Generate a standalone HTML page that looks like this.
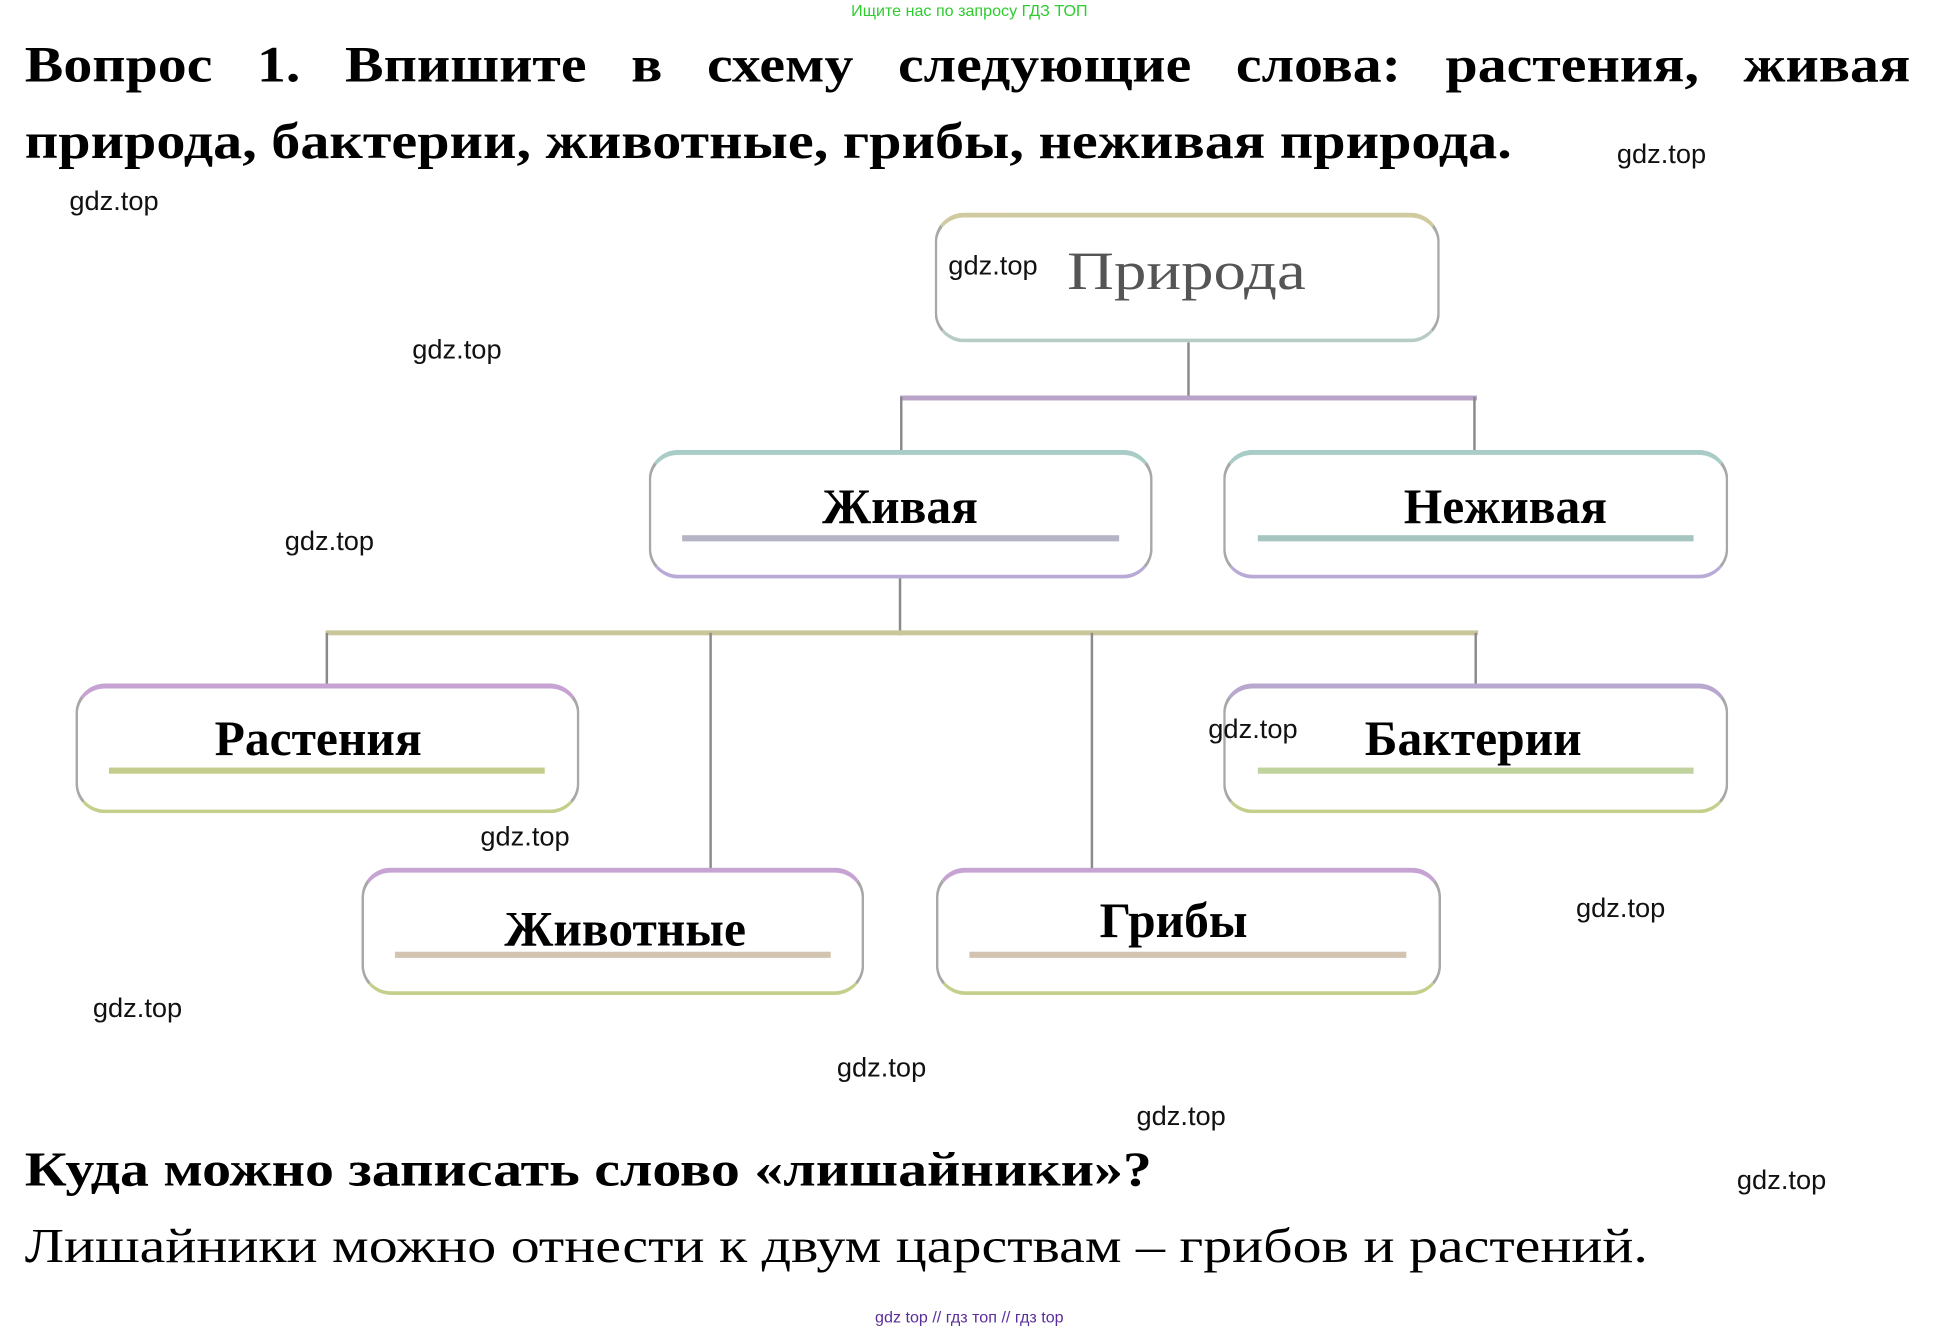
<!DOCTYPE html>
<html><head><meta charset="utf-8"><style>
html,body{margin:0;padding:0;background:#fff;width:1942px;height:1334px;overflow:hidden}
#c{position:absolute;left:0;top:0;width:1570px;height:1080px;transform:scale(1.238,1.236);transform-origin:0 0;font-family:"Liberation Serif",serif}
.a{position:absolute;white-space:nowrap}
.w{position:absolute;font-family:"Liberation Sans",sans-serif;font-size:22px;color:#111;line-height:22px}
.b{position:absolute;border:2px solid #a8a8a8;border-radius:24px;box-sizing:border-box;background:#fff}
.t{position:absolute;font-weight:bold;font-size:40px;transform:translateX(-50%);line-height:40px}
.l{position:absolute;height:5px}
.v{position:absolute;width:2px;background:#8a8a8a}
.h{position:absolute;height:4px}
.sx{transform-origin:0 0}
</style></head><body><div id="c">
<div class="a" style="left:0;width:1566px;text-align:center;top:1px;font-family:'Liberation Sans',sans-serif;font-size:13px;color:#2ecc2e">Ищите нас по запросу ГДЗ ТОП</div>
<div class="a sx" style="left:20px;top:28px;width:1336px;font-weight:bold;font-size:41px;text-align:justify;text-align-last:justify;line-height:48px;transform:scaleX(1.14)">Вопрос 1. Впишите в схему следующие слова: растения, живая</div>
<div class="a sx" style="left:20px;top:90px;font-weight:bold;font-size:41px;line-height:48px;transform:scaleX(1.145)">природа, бактерии, животные, грибы, неживая природа.</div>

<div class="v" style="left:959px;top:277px;height:46px"></div>
<div class="h" style="left:727px;top:320px;width:466px;background:#b9a3c9"></div>
<div class="v" style="left:727px;top:321px;height:44px"></div>
<div class="v" style="left:1190px;top:321px;height:44px"></div>
<div class="v" style="left:726px;top:468px;height:46px"></div>
<div class="h" style="left:263px;top:510px;width:931px;background:#c9c79a"></div>
<div class="v" style="left:263px;top:512px;height:42px"></div>
<div class="v" style="left:573px;top:512px;height:191px"></div>
<div class="v" style="left:881px;top:512px;height:191px"></div>
<div class="v" style="left:1191px;top:512px;height:42px"></div>

<div class="b" style="left:755px;top:172px;width:408px;height:105px;border-top:4px solid #cfcaa0;border-bottom:3px solid #b7ccc4"></div>
<div class="a sx" style="left:862px;top:196px;font-size:44px;color:#555;line-height:48px;transform:scaleX(1.19)">Природа</div>

<div class="b" style="left:524px;top:364px;width:407px;height:104px;border-top:4px solid #a9cdc6;border-bottom:3px solid #b9a9d6"></div>
<div class="t" style="left:727px;top:390px">Живая</div>
<div class="l" style="left:551px;top:433px;width:353px;background:#b4b4c6"></div>

<div class="b" style="left:988px;top:364px;width:408px;height:104px;border-top:4px solid #a9cdc6;border-bottom:3px solid #b9a9d6"></div>
<div class="t" style="left:1216px;top:390px">Неживая</div>
<div class="l" style="left:1016px;top:433px;width:352px;background:#a6c4c0"></div>

<div class="b" style="left:61px;top:553px;width:407px;height:105px;border-top:4px solid #c6a3d2;border-bottom:3px solid #c4cf8c"></div>
<div class="t" style="left:257px;top:578px">Растения</div>
<div class="l" style="left:88px;top:621px;width:352px;background:#c4cc8e"></div>

<div class="b" style="left:988px;top:553px;width:408px;height:105px;border-top:4px solid #b8a8cf;border-bottom:3px solid #c4cf8c"></div>
<div class="t" style="left:1190px;top:578px">Бактерии</div>
<div class="l" style="left:1016px;top:621px;width:352px;background:#c0d29e"></div>

<div class="b" style="left:292px;top:702px;width:406px;height:103px;border-top:4px solid #c6a3d2;border-bottom:3px solid #c4cf8c"></div>
<div class="t" style="left:505px;top:732px">Животные</div>
<div class="l" style="left:319px;top:770px;width:352px;background:#d2c4b0"></div>

<div class="b" style="left:756px;top:702px;width:408px;height:103px;border-top:4px solid #c6a3d2;border-bottom:3px solid #c4cf8c"></div>
<div class="t" style="left:948px;top:725px">Грибы</div>
<div class="l" style="left:783px;top:770px;width:353px;background:#d2c4b0"></div>

<div class="w" style="left:1306px;top:114px">gdz.top</div>
<div class="w" style="left:56px;top:152px">gdz.top</div>
<div class="w" style="left:766px;top:204px">gdz.top</div>
<div class="w" style="left:333px;top:272px">gdz.top</div>
<div class="w" style="left:230px;top:427px">gdz.top</div>
<div class="w" style="left:976px;top:579px">gdz.top</div>
<div class="w" style="left:388px;top:666px">gdz.top</div>
<div class="w" style="left:1273px;top:724px">gdz.top</div>
<div class="w" style="left:75px;top:805px">gdz.top</div>
<div class="w" style="left:676px;top:853px">gdz.top</div>
<div class="w" style="left:918px;top:892px">gdz.top</div>
<div class="w" style="left:1403px;top:944px">gdz.top</div>

<div class="a sx" style="left:20px;top:923px;font-weight:bold;font-size:39px;line-height:48px;transform:scaleX(1.2)">Куда можно записать слово «лишайники»?</div>
<div class="a sx" style="left:20px;top:985px;font-size:39px;line-height:48px;transform:scaleX(1.2)">Лишайники можно отнести к двум царствам – грибов и растений.</div>
<div class="a" style="left:0;width:1566px;text-align:center;top:1058px;font-family:'Liberation Sans',sans-serif;font-size:13px;color:#5a2d9a">gdz top // гдз топ // гдз top</div>
</div></body></html>
